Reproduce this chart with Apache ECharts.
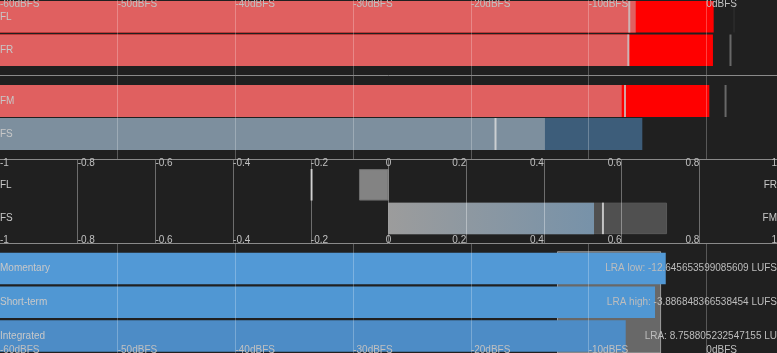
<!DOCTYPE html>
<html>
<head>
<meta charset="utf-8">
<title>Meter</title>
<script src="https://cdn.jsdelivr.net/npm/echarts@6/dist/echarts.min.js"></script>
<style>
  html, body { margin: 0; padding: 0; background: #202020; }
  #chart { width: 777px; height: 353px; }
</style>
</head>
<body>
<div id="chart"></div>
<script>
// dB scale
const dbMin = -60
const dbMax = 6
const dbTicks = [-60, -50, -40, -30, -20, -10, 0]

// channel level meters (dBFS)
const chTop = ['FL', 'FR']
const rmsTop = [-6.0, -6.55]
const peakTop = [0.62, 0.56]
const markTop = [-6.55, -6.63]
const holdTop = [2.35, 2.05]

const chMid = ['FM', 'FS']
const rmsMid = [-7.19, -13.71]
const peakMid = [0.25, -5.44]
const markMid = [-6.91, -17.91]
const holdMid = [1.63, null]

// phase correlation
const corrTicks = [-1, -0.8, -0.6, -0.4, -0.2, 0, 0.2, 0.4, 0.6, 0.8, 1]
const corrLeft = ['FL', 'FS']
const corrRight = ['FR', 'FM']
const corrValue = [-0.076, 0.529]
const corrRange = [null, 0.717]
const corrMark = [-0.198, 0.552]

// loudness (LUFS)
const loudCats = ['Momentary', 'Short-term', 'Integrated']
const loudValue = [-3.45, -4.36, -6.85]
const lraLow = -12.645653599085609
const lraHigh = -3.886848366538454
const lra = 8.758805232547155

// styles
const rmsColorsTop = ['#e06060', '#e06060']
const peakColorsTop = ['#ff0000', '#ff0000']
const holdColorsTop = ['#2c2c2c', '#7a7a7a']
const rmsColorsMid = ['#e06060', '#7d8f9e']
const peakColorsMid = ['#ff0000', '#3d5d7a']
const markColorsMid = ['#c8c8c8', '#dedede']
const holdColorsMid = ['#7a7a7a', '#7a7a7a']
const loudColors = ['#5299d6', '#5097d3', '#4d8cc6']

const font = { fontFamily: 'Liberation Sans, Arial, sans-serif', fontSize: 10, color: '#c0c0c0' }
const lineColor = '#8a8a8a'
const labelMargin = { top: -0.5, bottom: -2.5 }

const chart = echarts.init(document.getElementById('chart'))

// bars start at the left edge, so hidden axes run from 0 to (dbMax - dbMin)
const shift = v => (v == null ? null : v - dbMin)

function dbFrame(grid, position, showLabel, showLine) {
  return {
    type: 'value',
    gridIndex: grid,
    position: position,
    min: dbMin,
    max: dbMax,
    interval: 10,
    z: 10,
    axisLine: { show: showLine, onZero: false, lineStyle: { color: lineColor } },
    axisTick: { show: false },
    axisLabel: {
      show: showLabel, inside: true, margin: labelMargin[position], align: 'left', interval: 0, ...font,
      formatter: v => (dbTicks.includes(v) ? v + 'dBFS' : '')
    },
    splitLine: { show: true, showMinLine: false, showMaxLine: false, lineStyle: { color: 'rgba(255,255,255,0.25)' } }
  }
}

function corrFrame(position, kind, showLine) {
  const tests = { neg: v => v < 0, pos: v => v > 0, zero: v => v === 0 }
  const aligns = { neg: 'left', pos: 'right', zero: 'center' }
  return {
    type: 'value',
    gridIndex: 2,
    position: position,
    min: -1,
    max: 1,
    interval: 0.2,
    z: 10,
    axisLine: { show: showLine, onZero: false, lineStyle: { color: lineColor } },
    axisTick: { show: false },
    axisLabel: {
      inside: true, margin: labelMargin[position], align: aligns[kind], interval: 0, ...font,
      formatter: v => (tests[kind](v) && corrTicks.includes(v) ? String(v) : '')
    },
    splitLine: { show: showLine && position === 'top', showMinLine: false, showMaxLine: false, lineStyle: { color: 'rgba(255,255,255,0.35)' } }
  }
}

function hiddenX(grid, min, max) {
  return { type: 'value', gridIndex: grid, min: min, max: max, show: false }
}

function catY(grid, data, position, color) {
  return {
    type: 'category',
    gridIndex: grid,
    data: data,
    inverse: true,
    position: position,
    z: 10,
    axisLine: { show: false },
    axisTick: { show: false },
    splitLine: { show: false },
    axisLabel: { inside: true, margin: 0, ...font, color: color || '#c8c8c8' }
  }
}

function levelBars(x, y, values, colors, width) {
  return {
    type: 'bar',
    xAxisIndex: x,
    yAxisIndex: y,
    barWidth: width,
    barGap: '-100%',
    data: values.map((v, i) => ({ value: shift(v), itemStyle: { color: colors[i] } }))
  }
}

function ticks(x, y, values, colors, h) {
  return {
    type: 'scatter',
    xAxisIndex: x,
    yAxisIndex: y,
    symbol: 'rect',
    symbolSize: [2, h],
    z: 4,
    data: values.map((v, i) => (v == null ? null : { value: [shift(v), i], itemStyle: { color: colors[i] } })).filter(d => d)
  }
}

const lraTexts = [
  'LRA low: ' + lraLow + ' LUFS',
  'LRA high: ' + lraHigh + ' LUFS',
  'LRA: ' + lra + ' LU'
]

const box = (top, height, bottom) => ({ left: 0, right: 0, top, height, bottom, outerBoundsMode: 'none', containLabel: false })

chart.setOption({
  backgroundColor: '#202020',
  animation: false,
  grid: [
    box(0, 75),
    box(75, 84),
    box(159, 84),
    box(243, undefined, 0),
    box(0, 67),
    box(84.5, 66),
    box(168, 67.2),
    box(251.7, 101.3)
  ],
  xAxis: [
    dbFrame(0, 'top', true, false),
    dbFrame(1, 'top', false, true),
    corrFrame('top', 'neg', true),
    corrFrame('top', 'pos', false),
    corrFrame('top', 'zero', false),
    corrFrame('bottom', 'neg', true),
    corrFrame('bottom', 'pos', false),
    corrFrame('bottom', 'zero', false),
    dbFrame(3, 'bottom', true, false),
    hiddenX(4, 0, dbMax - dbMin),
    hiddenX(5, 0, dbMax - dbMin),
    hiddenX(6, -1, 1),
    hiddenX(7, 0, dbMax - dbMin)
  ],
  yAxis: [
    { type: 'value', gridIndex: 0, show: false, min: 0, max: 1 },
    { type: 'value', gridIndex: 1, show: false, min: 0, max: 1 },
    { type: 'value', gridIndex: 2, show: false, min: 0, max: 1 },
    { type: 'value', gridIndex: 3, show: false, min: 0, max: 1 },
    catY(4, chTop, 'left'),
    catY(5, chMid, 'left'),
    catY(6, corrLeft, 'left'),
    catY(6, corrRight, 'right'),
    catY(7, loudCats, 'left'),
    catY(7, lraTexts, 'right', '#bdbdbd')
  ],
  series: [
    levelBars(9, 4, peakTop, peakColorsTop, 31.5),
    levelBars(9, 4, rmsTop, rmsColorsTop, 31.5),
    ticks(9, 4, markTop, ['#c8c8c8', '#c8c8c8'], 31.5),
    ticks(9, 4, holdTop, holdColorsTop, 31.5),

    levelBars(10, 5, peakMid, peakColorsMid, 32),
    levelBars(10, 5, rmsMid, rmsColorsMid, 32),
    ticks(10, 5, markMid, markColorsMid, 32),
    ticks(10, 5, holdMid, holdColorsMid, 32),

    {
      type: 'bar',
      xAxisIndex: 11,
      yAxisIndex: 6,
      barWidth: 31.5,
      barGap: '-100%',
      itemStyle: { color: '#505050', borderColor: '#5a5a5a', borderWidth: 1 },
      data: corrRange
    },
    {
      type: 'bar',
      xAxisIndex: 11,
      yAxisIndex: 6,
      barWidth: 31.5,
      barGap: '-100%',
      data: corrValue.map((v, i) => ({
        value: v,
        itemStyle: i === 0
          ? { color: '#838383', borderColor: '#6e6e6e', borderWidth: 1 }
          : {
              color: new echarts.graphic.LinearGradient(0, 0, 1, 0, [
                { offset: 0, color: '#9c9c9c' },
                { offset: 1, color: '#7792a9' }
              ])
            }
      }))
    },
    {
      type: 'scatter',
      xAxisIndex: 11,
      yAxisIndex: 6,
      symbol: 'rect',
      symbolSize: [2, 31.5],
      z: 4,
      itemStyle: { color: '#e0e0e0' },
      data: corrMark.map((v, i) => [v, i])
    },

    levelBars(12, 8, loudValue, loudColors, 31.5),
    {
      type: 'line',
      xAxisIndex: 12,
      yAxisIndex: 8,
      z: 5,
      data: [],
      markArea: {
        silent: true,
        itemStyle: { color: 'rgba(205,205,205,0.42)', borderColor: 'rgba(225,225,225,0.55)', borderWidth: 1 },
        data: [[{ xAxis: shift(lraLow) }, { xAxis: shift(lraHigh) }]]
      }
    }
  ]
})
</script>
</body>
</html>
